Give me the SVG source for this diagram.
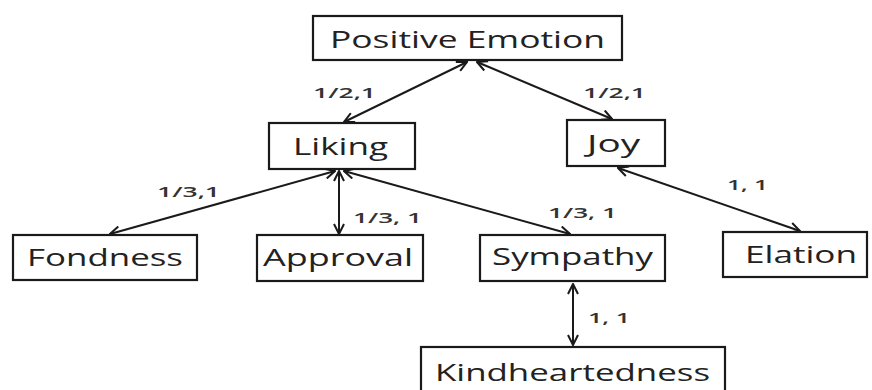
<svg xmlns="http://www.w3.org/2000/svg" width="872" height="390" viewBox="0 0 872 390">
<style>
.box{fill:#fff;stroke:#1a1a1a;stroke-width:2.2}
.t{font-family:"Open Sans","DejaVu Sans",sans-serif;font-size:24px;fill:#222}
.l{font-family:"Open Sans","DejaVu Sans",sans-serif;font-size:15px;font-weight:600;fill:#333}
.c{stroke:#1a1a1a;stroke-width:2;fill:none;marker-start:url(#ah);marker-end:url(#ah)}
</style>
<defs>
<marker id="ah" viewBox="0 0 12 12" refX="11" refY="6" markerWidth="12" markerHeight="12" markerUnits="userSpaceOnUse" orient="auto-start-reverse">
<path d="M1,1 L11,6 L1,11" fill="none" stroke="#1a1a1a" stroke-width="2"/>
</marker>
</defs>
<g id="connectors">
<line class="c" x1="467" y1="62" x2="344" y2="122"/>
<line class="c" x1="477" y1="62" x2="612" y2="119"/>
<line class="c" x1="618" y1="168" x2="800" y2="231"/>
<line class="c" x1="335" y1="171" x2="110" y2="234"/>
<line class="c" x1="339" y1="171" x2="339" y2="234"/>
<line class="c" x1="344" y1="171" x2="570" y2="234"/>
<line class="c" x1="573" y1="284" x2="573" y2="345"/>
</g>
<g id="labels">
<text class="l" x="313" y="98" textLength="63" lengthAdjust="spacingAndGlyphs">1/2,1</text>
<text class="l" x="583" y="98" textLength="63" lengthAdjust="spacingAndGlyphs">1/2,1</text>
<text class="l" x="157" y="197" textLength="63" lengthAdjust="spacingAndGlyphs">1/3,1</text>
<text class="l" x="353" y="223" textLength="69" lengthAdjust="spacingAndGlyphs">1/3, 1</text>
<text class="l" x="548" y="218" textLength="69" lengthAdjust="spacingAndGlyphs">1/3, 1</text>
<text class="l" x="727" y="190" textLength="41" lengthAdjust="spacingAndGlyphs">1, 1</text>
<text class="l" x="588" y="323" textLength="42" lengthAdjust="spacingAndGlyphs">1, 1</text>
</g>
<g id="positive-emotion">
<rect class="box" x="313" y="16" width="309" height="44"/>
<text class="t" x="330" y="48" textLength="275" lengthAdjust="spacingAndGlyphs">Positive Emotion</text>
</g>
<g id="liking">
<rect class="box" x="269" y="123" width="146" height="46"/>
<text class="t" x="293" y="155" textLength="95" lengthAdjust="spacingAndGlyphs">Liking</text>
</g>
<g id="joy">
<rect class="box" x="567" y="120" width="98" height="46"/>
<text class="t" x="587" y="152" textLength="53" lengthAdjust="spacingAndGlyphs">Joy</text>
</g>
<g id="fondness">
<rect class="box" x="13" y="235" width="184" height="45"/>
<text class="t" x="27" y="266" textLength="156" lengthAdjust="spacingAndGlyphs">Fondness</text>
</g>
<g id="approval">
<rect class="box" x="257" y="235" width="166" height="46"/>
<text class="t" x="263" y="266" textLength="150" lengthAdjust="spacingAndGlyphs">Approval</text>
</g>
<g id="sympathy">
<rect class="box" x="480" y="235" width="185" height="46"/>
<text class="t" x="492" y="265" textLength="161" lengthAdjust="spacingAndGlyphs">Sympathy</text>
</g>
<g id="elation">
<rect class="box" x="723" y="232" width="144" height="45"/>
<text class="t" x="745" y="263" textLength="112" lengthAdjust="spacingAndGlyphs">Elation</text>
</g>
<g id="kindheartedness">
<rect class="box" x="421" y="347" width="304" height="50"/>
<text class="t" x="435" y="381" font-size="22" textLength="275" lengthAdjust="spacingAndGlyphs">Kindheartedness</text>
</g>
</svg>
